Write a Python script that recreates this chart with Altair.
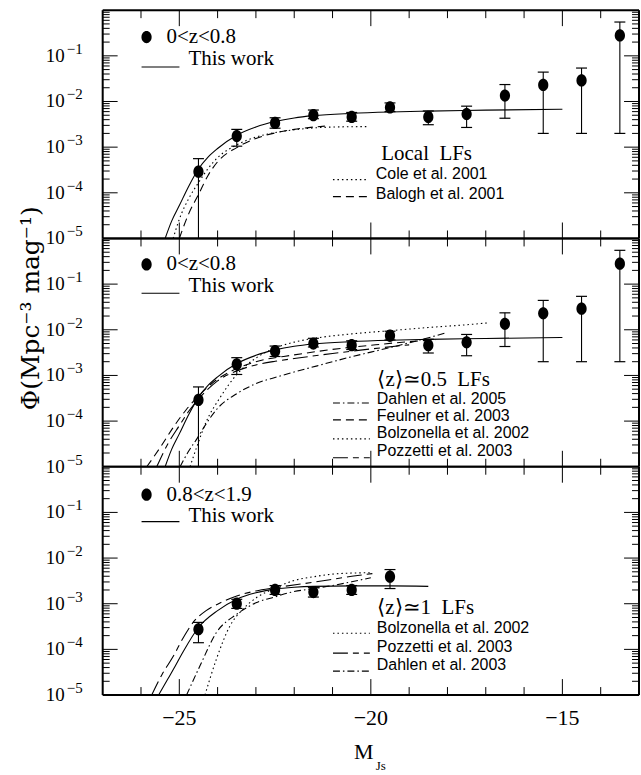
import altair as alt
import pandas as pd

W, H = 538, 229
SERIF = "Liberation Serif"
SANS = "Liberation Sans Narrow, Arial Narrow, Liberation Sans"
ELL = "M0,-1.2A1,1.2 0 1,1 0,1.2A1,1.2 0 1,1 0,-1.2Z"

# ---------------- data: 0<z<0.8 ----------------
m_low = [-24.5, -23.5, -22.5, -21.5, -20.5, -19.5, -18.5, -17.5, -16.5, -15.5, -14.5, -13.5]
phi_low = [2.9e-4, 1.75e-3, 3.4e-3, 5.0e-3, 4.6e-3, 7.4e-3, 4.6e-3, 5.3e-3, 1.35e-2, 2.3e-2, 2.9e-2, 0.28]
hi_low = [5.6e-4, 2.45e-3, 4.4e-3, 6.5e-3, 5.75e-3, 9.3e-3, 6.2e-3, 7.9e-3, 2.35e-2, 4.4e-2, 5.4e-2, 0.55]
lo_low = [1e-5, 1.05e-3, 2.6e-3, 4.2e-3, 3.7e-3, 6.0e-3, 3.1e-3, 2.7e-3, 4.3e-3, 2.0e-3, 2.0e-3, 2.0e-3]

# ---------------- data: 0.8<z<1.9 ----------------
m_high = [-24.5, -23.5, -22.5, -21.5, -20.5, -19.5]
phi_high = [2.75e-4, 1.0e-3, 2.0e-3, 1.8e-3, 2.0e-3, 3.9e-3]
hi_high = [3.9e-4, 1.25e-3, 2.5e-3, 2.25e-3, 2.5e-3, 5.6e-3]
lo_high = [1.4e-4, 7.9e-4, 1.6e-3, 1.4e-3, 1.6e-3, 2.15e-3]

# ---------------- curves (log10 phi) ----------------
fit_low_m = [-25.37, -25.2, -25.0, -24.75, -24.5, -24.25, -24.0, -23.5, -23.0, -22.5, -22.0, -21.5, -20.5, -19.5, -18.5, -17.0, -15.0]
fit_low_lg = [-5.0, -4.62, -4.28, -3.85, -3.48, -3.22, -3.03, -2.74, -2.56, -2.44, -2.36, -2.31, -2.26, -2.23, -2.21, -2.19, -2.17]

cole_m = [-25.16, -25.0, -24.75, -24.5, -24.25, -24.0, -23.5, -23.0, -22.5, -22.0, -21.5, -21.0, -20.1]
cole_lg = [-5.0, -4.58, -4.12, -3.78, -3.47, -3.23, -2.95, -2.78, -2.68, -2.62, -2.58, -2.56, -2.55]

balogh_m = [-25.0, -24.75, -24.5, -24.25, -24.0, -23.5, -23.0, -22.5, -22.0, -21.5, -21.2]
balogh_lg = [-5.0, -4.45, -4.04, -3.62, -3.32, -3.01, -2.81, -2.69, -2.61, -2.56, -2.54]

dahlen05_m = [-24.98, -24.75, -24.55, -24.3, -24.0, -23.5, -23.0, -22.4, -21.4, -20.5, -19.6, -18.7, -18.05]
dahlen05_lg = [-5.0, -4.65, -4.40, -4.06, -3.72, -3.40, -3.18, -3.02, -2.79, -2.59, -2.41, -2.22, -2.07]

feulner_m = [-25.85, -25.5, -25.16, -24.81, -24.5, -24.0, -23.5, -23.0, -22.0, -21.0, -20.0, -19.0, -18.3]
feulner_lg = [-5.0, -4.58, -4.14, -3.74, -3.45, -3.08, -2.85, -2.70, -2.55, -2.43, -2.34, -2.26, -2.22]

bolz05_m = [-24.72, -24.55, -24.29, -23.94, -23.5, -23.0, -22.5, -22.0, -21.5, -20.5, -19.5, -18.5, -17.5, -16.95]
bolz05_lg = [-5.0, -4.58, -4.0, -3.49, -2.98, -2.62, -2.40, -2.27, -2.19, -2.09, -2.02, -1.95, -1.89, -1.85]

pozz05_m = [-25.59, -25.3, -25.0, -24.75, -24.5, -24.0, -23.5, -23.0, -22.5, -22.0, -21.0, -20.0, -19.0]
pozz05_lg = [-5.0, -4.5, -4.1, -3.78, -3.52, -3.12, -2.90, -2.77, -2.69, -2.63, -2.52, -2.42, -2.33]

fit_high_m = [-25.54, -25.3, -25.15, -24.9, -24.5, -24.0, -23.5, -23.0, -22.5, -22.0, -21.5, -20.5, -19.5, -18.5]
fit_high_lg = [-5.0, -4.65, -4.43, -4.05, -3.52, -3.15, -2.90, -2.76, -2.68, -2.64, -2.62, -2.61, -2.61, -2.62]

pozz1_m = [-25.72, -25.45, -25.15, -24.9, -24.64, -24.3, -24.0, -23.5, -23.0, -22.5, -21.5, -20.5, -19.96]
pozz1_lg = [-5.0, -4.55, -4.14, -3.75, -3.41, -3.15, -3.01, -2.83, -2.72, -2.65, -2.53, -2.40, -2.34]

bolz1_m = [-24.33, -24.03, -23.68, -23.34, -22.99, -22.5, -22.04, -21.5, -20.83, -20.0]
bolz1_lg = [-5.0, -4.21, -3.49, -3.12, -2.87, -2.66, -2.50, -2.41, -2.34, -2.32]

dahlen03_m = [-24.81, -24.46, -24.03, -23.5, -23.0, -22.5, -22.04, -21.5, -21.0, -20.5, -20.0]
dahlen03_lg = [-5.0, -4.36, -3.63, -3.23, -2.98, -2.85, -2.74, -2.67, -2.60, -2.52, -2.43]

# ---------------- axes ----------------
x_minor = [-26, -24, -23, -22, -21, -19, -18, -17, -16, -14]
x_major = [-25, -20, -15]
x_labels = ["\u221225", "\u221220", "\u221215"]
y_major = [1e-4, 1e-3, 1e-2, 1e-1]
y_label_vals = [1e-1, 1e-2, 1e-3, 1e-4, 1e-5]
y_label_exp = ["\u22121", "\u22122", "\u22123", "\u22124", "\u22125"]
mantissas = [2, 3, 4, 5, 6, 7, 8, 9]
decades = [1e-5, 1e-4, 1e-3, 1e-2, 1e-1]
y_minor = [m * d for d in decades for m in mantissas]

DOT = [1.5, 3]
DASH = [8, 5]
DASHDOT = [7, 3, 1.5, 3]
LONGDASH = [15, 5, 6, 5]

xs = alt.Scale(domain=[-27, -13], nice=False, zero=False)
ys = alt.Scale(type="log", domain=[1e-5, 1], nice=False)


def X(f="m"):
    return alt.X(f"{f}:Q", scale=xs, axis=None)


def Y(f="phi"):
    return alt.Y(f"{f}:Q", scale=ys, axis=None)


def one():
    return pd.DataFrame({"a": [0]})


def curve(m, lg, dash=None):
    df = pd.DataFrame({"m": m, "phi": [10 ** v for v in lg], "o": list(range(len(m)))})
    kw = dict(color="black", strokeWidth=1.1, interpolate="monotone")
    if dash:
        kw["strokeDash"] = dash
    return alt.Chart(df).mark_line(**kw).encode(x=X(), y=Y(), order="o:Q")


def points(m, phi, hi, lo):
    df = pd.DataFrame({"m": m, "phi": phi, "hi": hi, "lo": lo})
    base = alt.Chart(df)
    bars = base.mark_rule(color="black", strokeWidth=1.1).encode(x=X(), y=Y("lo"), y2="hi:Q")
    capt = base.mark_tick(orient="horizontal", color="black", size=11, thickness=1.2, opacity=1).encode(x=X(), y=Y("hi"))
    capb = base.transform_filter("datum.lo > 1.5e-5").mark_tick(
        orient="horizontal", color="black", size=11, thickness=1.2, opacity=1).encode(x=X(), y=Y("lo"))
    dots = base.mark_point(shape=ELL, filled=True, size=105, color="black", opacity=1).encode(x=X(), y=Y())
    return [bars, capt, capb, dots]


def frame():
    out = []
    for vals, L in ((y_minor, 7), (y_major, 15)):
        df = pd.DataFrame({"v": vals})
        out.append(alt.Chart(df).mark_rule(color="black", strokeWidth=1).encode(
            y=Y("v"), x=alt.value(0), x2=alt.value(L)))
        out.append(alt.Chart(df).mark_rule(color="black", strokeWidth=1).encode(
            y=Y("v"), x=alt.value(W), x2=alt.value(W - L)))
    for vals, L in ((x_minor, 8), (x_major, 16)):
        df = pd.DataFrame({"v": vals})
        out.append(alt.Chart(df).mark_rule(color="black", strokeWidth=1).encode(
            x=X("v"), y=alt.value(0), y2=alt.value(L)))
        out.append(alt.Chart(df).mark_rule(color="black", strokeWidth=1).encode(
            x=X("v"), y=alt.value(H), y2=alt.value(H - L)))
    box = alt.Chart(one()).mark_rule(color="black", strokeWidth=2)
    out += [box.encode(x=alt.value(0), y=alt.value(0), y2=alt.value(H)),
            box.encode(x=alt.value(W), y=alt.value(0), y2=alt.value(H)),
            box.encode(x=alt.value(0), x2=alt.value(W), y=alt.value(0)),
            box.encode(x=alt.value(0), x2=alt.value(W), y=alt.value(H))]
    return out


def y_labels():
    df = pd.DataFrame({"v": y_label_vals, "e": y_label_exp, "b": ["10"] * len(y_label_vals)})
    ten = alt.Chart(df).mark_text(align="right", baseline="middle", font=SERIF, fontSize=19,
                                  color="black").encode(y=Y("v"), x=alt.value(-38), text="b:N")
    ex = alt.Chart(df).mark_text(align="left", baseline="middle", font=SERIF, fontSize=15, dy=-7,
                                 color="black").encode(y=Y("v"), x=alt.value(-36), text="e:N")
    return [ten, ex]


def txt(s, x, y, size, font=SERIF, align="left", angle=None):
    df = pd.DataFrame({"t": [s]})
    kw = dict(align=align, baseline="middle", fontSize=size, font=font, color="black")
    if angle is not None:
        kw["angle"] = angle
    return alt.Chart(df).mark_text(**kw).encode(text="t:N", x=alt.value(x), y=alt.value(y))


def sample(x1, x2, y, dash=None):
    kw = dict(color="black", strokeWidth=1.1)
    if dash:
        kw["strokeDash"] = dash
    return alt.Chart(one()).mark_rule(**kw).encode(x=alt.value(x1), x2=alt.value(x2), y=alt.value(y))


def key_dot(y):
    return alt.Chart(one()).mark_point(shape=ELL, filled=True, size=105, color="black", opacity=1).encode(
        x=alt.value(44), y=alt.value(y))


def panel(layers):
    return alt.layer(*layers).properties(width=W, height=H)


LS = 16   # legend font size
TS = 21   # panel label font size

# ---------------- top panel ----------------
anchor = alt.Chart(one()).mark_rule(color="white", strokeWidth=1).encode(
    x=alt.value(-101.5), x2=alt.value(-100.5), y=alt.value(-7.5))
top_layers = [anchor,
              curve(fit_low_m, fit_low_lg),
              curve(cole_m, cole_lg, DOT),
              curve(balogh_m, balogh_lg, DASH)]
top_layers += points(m_low, phi_low, hi_low, lo_low)
top_layers += frame() + y_labels()
top_layers += [key_dot(27), txt("0<z<0.8", 64, 27, TS),
               sample(39, 77, 57), txt("This work", 86, 49, TS),
               txt("Local\u00a0 LFs", 325, 144, TS, align="center"),
               sample(231, 265, 170, DOT), txt("Cole et al. 2001", 274, 164, LS, font=SANS),
               sample(231, 265, 187, DASH), txt("Balogh et al. 2001", 274, 184, LS, font=SANS)]
top = panel(top_layers)

# ---------------- middle panel ----------------
mid_layers = [curve(fit_low_m, fit_low_lg),
              curve(dahlen05_m, dahlen05_lg, DASHDOT),
              curve(feulner_m, feulner_lg, DASH),
              curve(bolz05_m, bolz05_lg, DOT),
              curve(pozz05_m, pozz05_lg, LONGDASH)]
mid_layers += points(m_low, phi_low, hi_low, lo_low)
mid_layers += frame() + y_labels()
mid_layers += [key_dot(26), txt("0<z<0.8", 64, 26, TS),
               sample(39, 77, 55), txt("This work", 86, 48, TS),
               txt("\u27e8z\u27e9\u22430.5\u00a0 LFs", 332, 142, TS, align="center"),
               sample(231, 268, 165, DASHDOT), txt("Dahlen et al. 2005", 275, 161, LS, font=SANS),
               sample(231, 268, 182, DASH), txt("Feulner et al. 2003", 275, 178, LS, font=SANS),
               sample(231, 268, 201, DOT), txt("Bolzonella et al. 2002", 275, 195, LS, font=SANS),
               sample(231, 268, 220, LONGDASH), txt("Pozzetti et al. 2003", 275, 213, LS, font=SANS),
               txt("\u03a6(Mpc\u207b\u00b3 mag\u207b\u00b9)", -72, 70, 25, font="DejaVu Serif",
                   align="center", angle=270)]
mid = panel(mid_layers)

# ---------------- bottom panel ----------------
bot_layers = [curve(fit_high_m, fit_high_lg),
              curve(bolz1_m, bolz1_lg, DOT),
              curve(pozz1_m, pozz1_lg, LONGDASH),
              curve(dahlen03_m, dahlen03_lg, DASHDOT)]
bot_layers += points(m_high, phi_high, hi_high, lo_high)
bot_layers += frame() + y_labels()
xl = pd.DataFrame({"v": x_major, "t": x_labels})
bot_layers += [alt.Chart(xl).mark_text(align="center", baseline="middle", font=SERIF, fontSize=22,
                                       color="black").encode(x=X("v"), y=alt.value(H + 23), text="t:N")]
bot_layers += [key_dot(28), txt("0.8<z<1.9", 64, 28, TS),
               sample(39, 77, 55), txt("This work", 86, 49, TS),
               txt("\u27e8z\u27e9\u22431\u00a0 LFs", 324, 142, TS, align="center"),
               sample(231, 268, 167, DOT), txt("Bolzonella et al. 2002", 275, 162, LS, font=SANS),
               sample(231, 268, 187, LONGDASH), txt("Pozzetti et al. 2003", 275, 181, LS, font=SANS),
               sample(231, 268, 205, DASHDOT), txt("Dahlen et al. 2003", 275, 199, LS, font=SANS),
               txt("M", 262, 286, 22, align="center"),
               txt("Js", 279, 300, 13, align="center")]
bot = panel(bot_layers)

chart = alt.VConcatChart(vconcat=[top, mid, bot], spacing=0, bounds="flush").properties(
    padding={"left": 0, "top": 0, "right": 0, "bottom": 0}
).configure_view(strokeWidth=0).configure(background="white")

chart.save("out.html", embed_options={"renderer": "svg", "actions": False})
